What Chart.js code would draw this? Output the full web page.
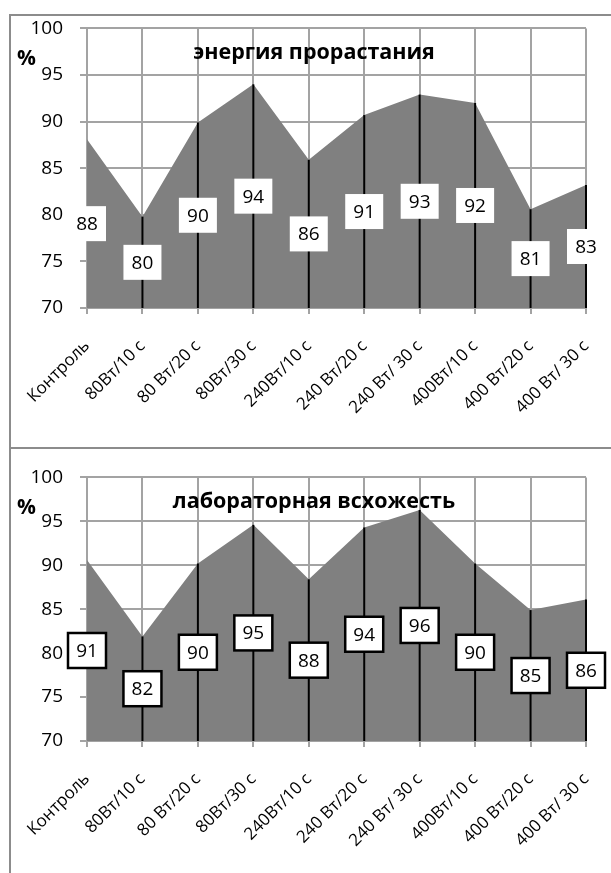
<!DOCTYPE html>
<html>
<head>
<meta charset="utf-8">
<script src="https://cdn.jsdelivr.net/npm/chart.js@4/dist/chart.umd.min.js"></script>
<style>
  html, body { margin: 0; padding: 0; background: #fff; }
  #wrap { position: relative; width: 611px; height: 873px; overflow: hidden; }
  canvas { position: absolute; left: 0; }
  .rule { position: absolute; background: #8c8c8c; }
</style>
</head>
<body>
<div id="wrap">
  <canvas id="energy" width="611" height="447" style="top:0"></canvas>
  <canvas id="germ" width="611" height="424" style="top:449px"></canvas>
  <div class="rule" style="left:9px;top:14px;width:602px;height:2px"></div>
  <div class="rule" style="left:9px;top:447px;width:602px;height:2px"></div>
  <div class="rule" style="left:9px;top:14px;width:2px;height:859px"></div>
</div>
<script>
const categories = ['Контроль', '80Вт/10 с', '80 Вт/20 с', '80Вт/30 с', '240Вт/10 с',
  '240 Вт/20 с', '240 Вт/ 30 с', '400Вт/10 с', '400 Вт/20 с', '400 Вт/ 30 с'];

// энергия прорастания, %
const energyValues = [88.1, 79.8, 89.9, 94.0, 85.9, 90.7, 92.9, 92.0, 80.6, 83.2];
// лабораторная всхожесть, %
const germValues = [90.6, 81.9, 90.2, 94.6, 88.4, 94.3, 96.3, 90.2, 84.9, 86.1];

const yMin = 70;
const yMax = 100;
const yStep = 5;

const FONT = "'Open Sans', 'Noto Sans', sans-serif";

// drop lines, value boxes, title and the % sign
const decor = {
  id: 'decor',
  afterDatasetsDraw(chart, args, opts) {
    const ctx = chart.ctx;
    const area = chart.chartArea;
    const ys = chart.scales.y;
    const meta = chart.getDatasetMeta(0);
    const vals = chart.data.datasets[0].data;

    ctx.save();
    ctx.strokeStyle = '#000';
    ctx.lineWidth = 2;
    meta.data.forEach((pt, i) => {
      if (i === 0) return;
      ctx.beginPath();
      ctx.moveTo(pt.x, pt.y);
      ctx.lineTo(pt.x, area.bottom);
      ctx.stroke();
    });

    ctx.font = '19px ' + FONT;
    ctx.textAlign = 'center';
    ctx.textBaseline = 'middle';
    const w = 38, h = 35;
    meta.data.forEach((pt, i) => {
      const cy = ys.getPixelForValue((vals[i] + yMin) / 2);
      const x0 = pt.x - w / 2, y0 = cy - h / 2;
      ctx.fillStyle = '#fff';
      ctx.fillRect(x0, y0, w, h);
      if (opts.boxed) {
        ctx.lineWidth = 2.5;
        ctx.strokeStyle = '#000';
        ctx.strokeRect(x0, y0, w, h);
      }
      ctx.fillStyle = '#000';
      ctx.fillText(Math.round(vals[i]).toString(), pt.x, cy + 1);
    });
    ctx.restore();
  },
  afterDraw(chart, args, opts) {
    const ctx = chart.ctx;
    const top = chart.chartArea.top;
    ctx.save();
    ctx.fillStyle = '#000';
    ctx.textBaseline = 'alphabetic';
    ctx.font = 'bold 21.5px ' + FONT;
    ctx.textAlign = 'center';
    ctx.fillText(opts.title, 314, top + 31);
    ctx.font = 'bold 21px ' + FONT;
    ctx.textAlign = 'left';
    ctx.fillText('%', 17, top + 37);
    ctx.restore();
  }
};

function makeChart(id, values, title, boxed, padTop, axisHeight) {
  return new Chart(document.getElementById(id), {
    type: 'line',
    data: {
      labels: categories,
      datasets: [{
        data: values,
        fill: 'start',
        backgroundColor: '#808080',
        borderWidth: 0,
        pointRadius: 0,
        tension: 0
      }]
    },
    options: {
      responsive: false,
      animation: false,
      layout: { padding: { left: 0, right: 25, top: padTop, bottom: 0 } },
      plugins: {
        legend: { display: false },
        tooltip: { enabled: false },
        decor: { title: title, boxed: boxed }
      },
      scales: {
        x: {
          offset: false,
          afterFit(scale) {
            // keep the plot width fixed, rotated labels have room anyway
            scale.height = axisHeight;
            scale.paddingLeft = 0;
            scale.paddingRight = 0;
          },
          grid: { color: '#a3a3a3', lineWidth: 2, tickLength: 6 },
          border: { color: '#a3a3a3', width: 2 },
          ticks: {
            autoSkip: false,
            minRotation: 45,
            maxRotation: 45,
            color: '#000',
            padding: 22,
            font: { family: FONT, size: 17 }
          }
        },
        y: {
          min: yMin,
          max: yMax,
          afterFit(scale) { scale.width = 87; },
          grid: { color: '#a3a3a3', lineWidth: 2, tickLength: 7 },
          border: { color: '#a3a3a3', width: 2 },
          ticks: {
            stepSize: yStep,
            color: '#000',
            padding: 17,
            font: { family: FONT, size: 19 }
          }
        }
      }
    },
    plugins: [decor]
  });
}

makeChart('energy', energyValues, 'энергия прорастания', false, 28, 139);
makeChart('germ', germValues, 'лабораторная всхожесть', true, 13, 132);
</script>
</body>
</html>
